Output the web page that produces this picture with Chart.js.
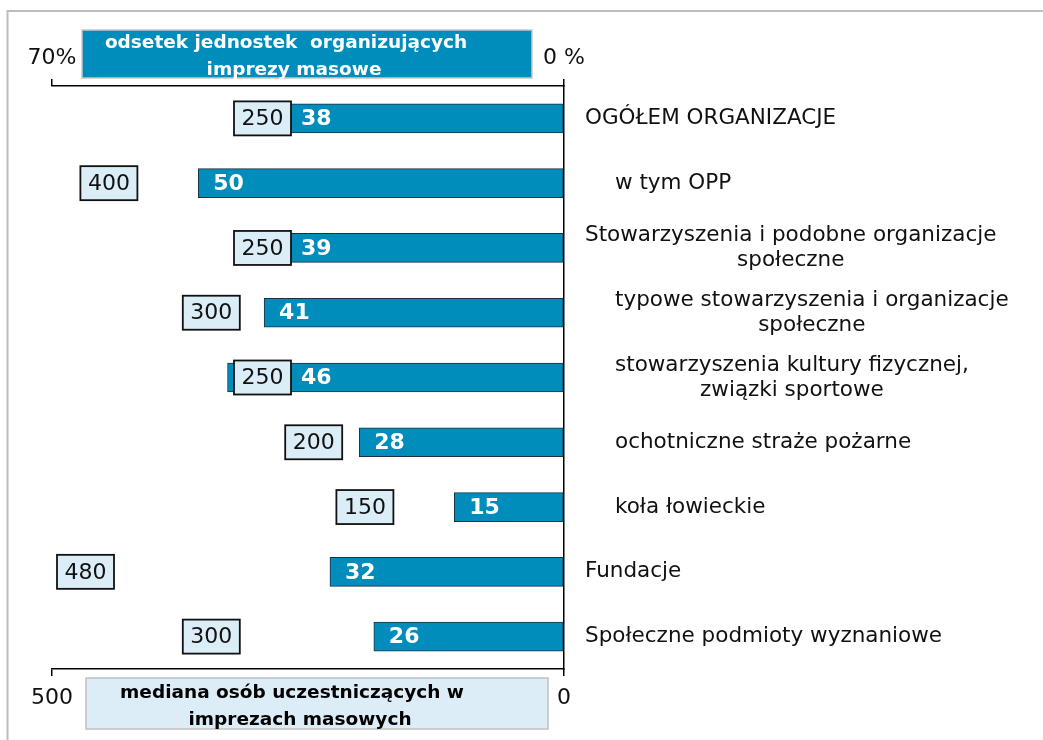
<!DOCTYPE html>
<html>
<head>
<meta charset="utf-8">
<script src="https://cdn.jsdelivr.net/npm/chart.js@4.4.0/dist/chart.umd.min.js"></script>
<style>
  html, body { margin: 0; padding: 0; background: #fff; }
  #wrap { width: 1043px; height: 740px; position: relative; }
</style>
</head>
<body>
<div id="wrap"><canvas id="chart"></canvas></div>
<script>
// categories (multi-line labels as arrays), level 1 = subgroup of the previous main group
const categories = [
  ['OGÓŁEM ORGANIZACJE'],
  ['w tym OPP'],
  ['Stowarzyszenia i podobne organizacje', 'społeczne'],
  ['typowe stowarzyszenia i organizacje', 'społeczne'],
  ['stowarzyszenia kultury fizycznej,', 'związki sportowe'],
  ['ochotniczne straże pożarne'],
  ['koła łowieckie'],
  ['Fundacje'],
  ['Społeczne podmioty wyznaniowe']
];
const levels = [0, 1, 0, 1, 1, 1, 1, 0, 0];

// odsetek jednostek organizujących imprezy masowe (%)
const sharePct = [38, 50, 39, 41, 46, 28, 15, 32, 26];
// mediana osób uczestniczących w imprezach masowych
const medianPeople = [250, 400, 250, 300, 250, 200, 150, 480, 300];

const pctTicks = [0, 70];
const medianTicks = [0, 500];

const FONT = 'DejaVu Sans, Verdana, sans-serif';
const BLUE = '#008dbc';

const decorations = {
  id: 'decorations',
  beforeDraw(chart) {
    const ctx = chart.ctx;
    ctx.save();
    ctx.fillStyle = '#fff';
    ctx.fillRect(0, 0, chart.width, chart.height);
    // grey frame on top and left
    ctx.strokeStyle = '#bdbdbd';
    ctx.lineWidth = 2;
    ctx.beginPath();
    ctx.moveTo(7.5, chart.height);
    ctx.lineTo(7.5, 11);
    ctx.lineTo(chart.width, 11);
    ctx.stroke();
    ctx.restore();
  },
  afterDraw(chart) {
    const ctx = chart.ctx;
    const ca = chart.chartArea;
    const x2 = chart.scales.x2;
    const meta = chart.getDatasetMeta(0);
    ctx.save();

    // header box (top)
    ctx.fillStyle = BLUE;
    ctx.fillRect(ca.left + 30, ca.top - 56, ca.right - ca.left - 62, 48);
    ctx.strokeStyle = '#c8c8c8';
    ctx.lineWidth = 1.5;
    ctx.strokeRect(ca.left + 30, ca.top - 56, ca.right - ca.left - 62, 48);
    ctx.fillStyle = '#fff';
    ctx.font = 'bold 18.5px ' + FONT;
    ctx.textAlign = 'center';
    ctx.textBaseline = 'middle';
    ctx.fillText('odsetek jednostek  organizujących', ca.left + 234, ca.top - 43);
    ctx.fillText('imprezy masowe', ca.left + 242, ca.top - 16);

    // footer box (bottom)
    ctx.fillStyle = '#dcedf8';
    ctx.fillRect(ca.left + 34, ca.bottom + 9, ca.right - ca.left - 50, 51);
    ctx.strokeStyle = '#c0c0c0';
    ctx.strokeRect(ca.left + 34, ca.bottom + 9, ca.right - ca.left - 50, 51);
    ctx.fillStyle = '#000';
    ctx.fillText('mediana osób uczestniczących w', ca.left + 240, ca.bottom + 24);
    ctx.fillText('imprezach masowych', ca.left + 248, ca.bottom + 51);

    meta.data.forEach((bar, i) => {
      // median boxes, placed on the bottom scale, drawn over the bar end
      const w = 57, h = 34;
      let right = x2.getPixelForValue(medianPeople[i]) - 17;
      let left = right - w;
      if (left < ca.left + 5) { left = ca.left + 5; right = left + w; }
      ctx.fillStyle = '#dbeef8';
      ctx.fillRect(left, bar.y - h / 2, w, h);
      ctx.strokeStyle = '#111';
      ctx.lineWidth = 1.8;
      ctx.strokeRect(left, bar.y - h / 2, w, h);
      ctx.fillStyle = '#111';
      ctx.font = '22px ' + FONT;
      ctx.textAlign = 'center';
      ctx.textBaseline = 'middle';
      ctx.fillText(String(medianPeople[i]), left + w / 2, bar.y + 1);

      // value labels inside bars
      ctx.fillStyle = '#fff';
      ctx.font = 'bold 22px ' + FONT;
      ctx.textAlign = 'left';
      const lx = Math.max(bar.x + 15, right + 10);
      ctx.fillText(String(sharePct[i]), lx, bar.y + 1);

      // category labels on the right
      const lines = categories[i];
      ctx.fillStyle = '#111';
      ctx.font = '21.5px ' + FONT;
      ctx.textAlign = 'center';
      const blockW = Math.max(...lines.map(l => ctx.measureText(l).width));
      const bx = ca.right + (levels[i] ? 51 : 21);
      lines.forEach((l, j) => {
        ctx.fillText(l, bx + blockW / 2, bar.y + (j - (lines.length - 1) / 2) * 25);
      });
    });
    ctx.restore();
  }
};

new Chart(document.getElementById('chart'), {
  type: 'bar',
  data: {
    labels: categories,
    datasets: [{
      data: sharePct,
      xAxisID: 'x',
      backgroundColor: BLUE,
      borderColor: '#1c3040',
      borderWidth: 1,
      borderSkipped: false,
      barThickness: 29
    }]
  },
  options: {
    indexAxis: 'y',
    responsive: true,
    maintainAspectRatio: false,
    animation: false,
    layout: { padding: { left: 52, right: 0, top: 0, bottom: 0 } },
    plugins: { legend: { display: false }, tooltip: { enabled: false } },
    scales: {
      x: {
        type: 'linear',
        position: 'top',
        reverse: true,
        min: 0,
        max: 70,
        afterBuildTicks: s => { s.ticks = pctTicks.map(v => ({ value: v })); },
        afterFit: s => { s.height = 86; },
        grid: { drawOnChartArea: false, tickLength: 7, color: '#000', lineWidth: 1.5 },
        border: { display: true, color: '#000', width: 1.5 },
        ticks: {
          autoSkip: false,
          maxRotation: 0,
          padding: 8,
          color: '#111',
          font: { family: FONT, size: 22 },
          callback: v => v === 0 ? '0 %' : v + '%'
        }
      },
      x2: {
        type: 'linear',
        position: 'bottom',
        reverse: true,
        min: 0,
        max: 500,
        afterBuildTicks: s => { s.ticks = medianTicks.map(v => ({ value: v })); },
        afterFit: s => { s.height = 71; },
        grid: { drawOnChartArea: false, tickLength: 7, color: '#000', lineWidth: 1.5 },
        border: { display: true, color: '#000', width: 1.5 },
        ticks: {
          autoSkip: false,
          maxRotation: 0,
          padding: 9,
          color: '#111',
          font: { family: FONT, size: 22 },
          callback: v => String(v)
        }
      },
      y: {
        type: 'category',
        position: 'right',
        afterFit: s => { s.width = 479; },
        grid: { display: false },
        border: { display: true, color: '#000', width: 1.5 },
        ticks: { display: false }
      }
    }
  },
  plugins: [decorations]
});
</script>
</body>
</html>
